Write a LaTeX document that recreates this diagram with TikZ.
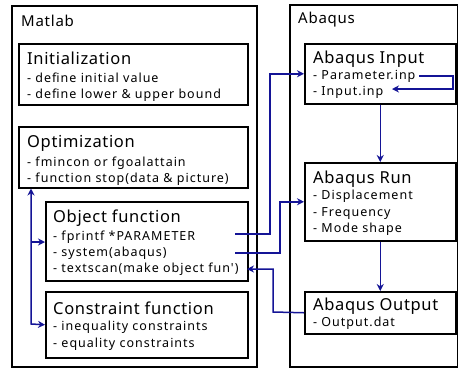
\documentclass[tikz,border=0pt]{standalone}
\usepackage{fontspec}
\setmainfont{Noto Sans}
\newfontfamily\lblfont[LetterSpace=5]{Noto Sans}
\newfontfamily\ttlfont[LetterSpace=4]{Noto Sans}
\newfontfamily\itmfont[LetterSpace=8]{Noto Sans}
\usetikzlibrary{arrows.meta,calc}
\definecolor{arrblue}{RGB}{20,20,150}
\tikzset{
  frame/.style={draw=black,line width=1.5pt,anchor=north west,inner sep=0pt},
  boxx/.style={draw=black,line width=1.5pt,anchor=north west,inner sep=0pt},
  lbl/.style={anchor=base west,inner sep=0pt,font=\lblfont\fontsize{15}{18}\selectfont},
  ttl/.style={anchor=base west,inner sep=0pt,font=\ttlfont\fontsize{16.5}{20}\selectfont},
  itm/.style={anchor=base west,inner sep=0pt,font=\itmfont\fontsize{12.5}{14}\selectfont},
  arr/.style={draw=arrblue,line width=1.5pt,-{Stealth[length=7pt,width=7pt]}},
  ln/.style={draw=arrblue,line width=1.5pt},
}
\begin{document}
\begin{tikzpicture}[x=1pt,y=-1pt]
\useasboundingbox (0,0) rectangle (458,368);
% outer frames
\node[frame,minimum width=245pt,minimum height=361pt] (matlab) at (11,5) {};
\node[frame,minimum width=168pt,minimum height=362pt] (abaqus) at (289,4) {};
\node[lbl] (matlabl) at (21,26) {Matlab};
\node[lbl] (abaqusl) at (298,23) {Abaqus};
% matlab boxes
\node[boxx,minimum width=229pt,minimum height=61pt] (init) at (18,43) {};
\node[boxx,minimum width=229pt,minimum height=61pt] (optim) at (18,126) {};
\node[boxx,minimum width=202pt,minimum height=79pt] (objf) at (45,201) {};
\node[boxx,minimum width=202pt,minimum height=66pt] (cons) at (45,291) {};
% abaqus boxes
\node[boxx,minimum width=151pt,minimum height=60pt] (ainp) at (304,43) {};
\node[boxx,minimum width=151pt,minimum height=78pt] (arun) at (304,162) {};
\node[boxx,minimum width=151pt,minimum height=42pt] (aout) at (304,291) {};
% texts
\node[ttl] (t1) at (27,64) {Initialization};
\node[itm] (t1a) at (27,82) {- define initial value};
\node[itm] (t1b) at (27,98) {- define lower \& upper bound};
\node[ttl] (t2) at (27,147) {Optimization};
\node[itm] (t2a) at (27,166) {- fmincon or fgoalattain};
\node[itm] (t2b) at (27,182) {- function stop(data \& picture)};
\node[ttl] (t3) at (53,222) {Object function};
\node[itm] (t3a) at (53,240) {- fprintf *PARAMETER};
\node[itm] (t3b) at (53,256) {- system(abaqus)};
\node[itm] (t3c) at (53,272) {- textscan(make object fun')};
\node[ttl] (t4) at (53,314) {Constraint function};
\node[itm] (t4a) at (53,330) {- inequality constraints};
\node[itm] (t4b) at (53,347) {- equality constraints};
\node[ttl] (t5) at (313,63) {Abaqus Input};
\node[itm] (t5a) at (313,79) {- Parameter.inp};
\node[itm] (t5b) at (313,95) {- Input.inp};
\node[ttl] (t6) at (313,183) {Abaqus Run};
\node[itm] (t6a) at (313,199) {- Displacement};
\node[itm] (t6b) at (313,216) {- Frequency};
\node[itm] (t6c) at (313,232) {- Mode shape};
\node[ttl] (t7) at (313,310) {Abaqus Output};
\node[itm] (t7a) at (313,326) {- Output.dat};
% connectors
\coordinate (p1) at (235,234);
\coordinate (p2) at (235,253);
\coordinate (p3) at (247,269);
\coordinate (q1) at (419,76);
\coordinate (q2) at (392,89);
\coordinate (lb) at (31,242);
\draw[arr] (p1) -- (270,234) |- (ainp.west);
\draw[arr] (p2) -- (280,253) |- (arun.west);
\draw[arr] (aout.west) -- (273,312) |- (p3);
\draw[arr] (ainp.south) -- (arun.north);
\draw[arr] (arun.south) -- (aout.north);
\draw[arr] (q1) -- (453,76) |- (q2);
\draw[ln,{Stealth[length=7pt,width=7pt]}-{Stealth[length=7pt,width=7pt]}] (optim.south -| lb) -- (31,324) -- (cons.west);
\draw[arr] (lb) -- (objf.west |- lb);
\end{tikzpicture}
\end{document}
